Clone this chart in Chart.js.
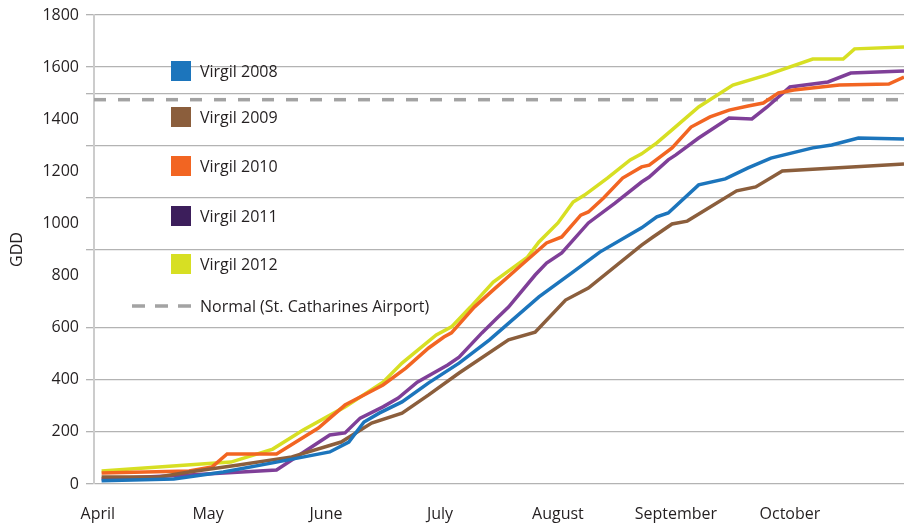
<!DOCTYPE html>
<html>
<head>
<meta charset="utf-8">
<script src="https://cdn.jsdelivr.net/npm/chart.js@4/dist/chart.umd.min.js"></script>
<style>
  html, body { margin: 0; padding: 0; background: #fff; }
  #wrap { width: 904px; height: 524px; }
</style>
</head>
<body>
<div id="wrap"><canvas id="gdd"></canvas></div>
<script>
// days counted from April 1
const monthTickDays = [1, 30, 61, 91, 122, 153, 183];
const monthLabels = ["April", "May", "June", "July", "August", "September", "October"];

const days2008 = [2, 21, 34, 48, 62, 67, 71, 75, 81, 88, 96, 104, 117, 126, 133, 144, 148, 151, 159, 166, 172, 178, 189, 194, 201, 213];
const gdd2008 = [12, 19, 46, 84, 123, 161, 238, 272, 315, 388, 464, 553, 718, 814, 890, 983, 1025, 1040, 1148, 1171, 1213, 1251, 1290, 1301, 1328, 1324];

const days2009 = [2, 17, 25, 38, 52, 65, 73, 81, 88, 96, 109, 116, 124, 130, 144, 147, 152, 156, 169, 174, 181, 213];
const gdd2009 = [27, 27, 46, 73, 104, 161, 234, 272, 342, 426, 553, 583, 706, 752, 917, 948, 998, 1009, 1125, 1140, 1201, 1228];

const days2010 = [2, 25, 31, 35, 48, 59, 66, 72, 76, 82, 88, 92, 94, 100, 105, 113, 119, 123, 128, 130, 134, 139, 144, 146, 152, 157, 162, 167, 172, 176, 180, 184, 196, 209, 213];
const gdd2010 = [42, 50, 65, 115, 115, 215, 303, 349, 380, 445, 522, 564, 580, 679, 745, 848, 925, 948, 1032, 1044, 1098, 1174, 1217, 1224, 1290, 1370, 1409, 1435, 1451, 1462, 1501, 1512, 1531, 1535, 1562];

const days2011 = [2, 25, 48, 52, 62, 66, 70, 76, 80, 85, 93, 96, 102, 106, 109, 116, 119, 123, 130, 137, 144, 146, 151, 153, 159, 167, 173, 177, 183, 193, 199, 213];
const gdd2011 = [19, 35, 54, 92, 188, 196, 253, 296, 330, 391, 457, 487, 580, 637, 679, 802, 848, 887, 1002, 1078, 1159, 1178, 1244, 1263, 1328, 1405, 1401, 1447, 1524, 1543, 1577, 1585];

const days2012 = [2, 32, 36, 47, 55, 66, 76, 81, 90, 94, 99, 105, 114, 117, 122, 126, 129, 135, 141, 144, 148, 152, 159, 168, 177, 189, 197, 200, 213];
const gdd2012 = [50, 81, 84, 134, 207, 296, 391, 464, 572, 603, 679, 775, 871, 929, 1002, 1082, 1109, 1174, 1244, 1267, 1309, 1359, 1447, 1531, 1570, 1631, 1631, 1670, 1677];

const normalGdd = 1475;
const seasonEnd = 213;

// y values that get a grid line in the original
const gridValues = [0, 200, 400, 600, 900, 1100, 1300, 1500, 1600, 1800];

function pts(days, vals) {
  return days.map((d, i) => ({ x: d, y: vals[i] }));
}

function line(label, days, vals, color, swatch) {
  return {
    label: label,
    data: pts(days, vals),
    borderColor: color,
    backgroundColor: swatch || color,
    borderWidth: 3.5,
    pointRadius: 0,
    tension: 0,
  };
}

const datasets = [
  line("Virgil 2008", days2008, gdd2008, "#1c75bc"),
  line("Virgil 2009", days2009, gdd2009, "#8b5e3c"),
  line("Virgil 2010", days2010, gdd2010, "#f26522"),
  line("Virgil 2011", days2011, gdd2011, "#7f3f98", "#3c1e5b"),
  line("Virgil 2012", days2012, gdd2012, "#d7df23"),
  {
    label: "Normal (St. Catharines Airport)",
    data: [{ x: 0, y: normalGdd }, { x: seasonEnd, y: normalGdd }],
    borderColor: "#a3a3a3",
    backgroundColor: "#a3a3a3",
    borderWidth: 3.5,
    borderDash: [12, 12],
    pointRadius: 0,
  },
];

// legend drawn inside the plot, like the original
const insideLegend = {
  id: "insideLegend",
  afterDraw(chart) {
    const ctx = chart.ctx;
    const rows = [71, 117, 166, 216, 264, 306];
    ctx.save();
    ctx.font = "16px 'Open Sans'";
    ctx.textBaseline = "middle";
    chart.data.datasets.forEach((ds, i) => {
      const y = rows[i];
      if (ds.borderDash) {
        ctx.strokeStyle = ds.borderColor;
        ctx.lineWidth = 3.5;
        ctx.setLineDash([13, 10]);
        ctx.beginPath();
        ctx.moveTo(191, y);
        ctx.lineTo(130, y);
        ctx.stroke();
        ctx.setLineDash([]);
      } else {
        ctx.fillStyle = ds.backgroundColor;
        ctx.fillRect(171, y - 10, 20, 20);
      }
      ctx.fillStyle = "#231f20";
      ctx.fillText(ds.label, 200, y + 1);
    });
    ctx.restore();
  },
};

new Chart(document.getElementById("gdd"), {
  type: "line",
  data: { datasets: datasets },
  options: {
    responsive: true,
    maintainAspectRatio: false,
    animation: false,
    layout: { padding: { top: 15, right: 0, left: 0, bottom: 0 } },
    plugins: {
      legend: { display: false },
      tooltip: { enabled: false },
    },
    scales: {
      x: {
        type: "linear",
        min: 0,
        max: seasonEnd,
        grid: { display: false, drawTicks: false },
        border: { display: false },
        afterBuildTicks: (s) => {
          s.ticks = monthTickDays.map((v) => ({ value: v }));
        },
        ticks: {
          autoSkip: false,
          maxRotation: 0,
          padding: 21,
          color: "#231f20",
          font: { family: "'Open Sans'", size: 16 },
          callback: (v) => monthLabels[monthTickDays.indexOf(v)],
        },
        afterFit: (s) => {
          s.height = 40;
          s.paddingLeft = 0;
          s.paddingRight = 0;
        },
      },
      y: {
        min: 0,
        max: 1800,
        title: {
          display: true,
          text: "GDD",
          color: "#231f20",
          font: { family: "'Open Sans'", size: 16 },
          padding: { top: 8, bottom: 0 },
        },
        grid: {
          color: (c) => (gridValues.includes(c.tick.value) ? "#b3b3b3" : "rgba(0,0,0,0)"),
          lineWidth: 1.3,
          tickLength: 8,
        },
        border: { display: true, color: "#cccccc", width: 2 },
        ticks: {
          stepSize: 100,
          padding: 7,
          color: "#231f20",
          font: { family: "'Open Sans'", size: 16 },
          callback: (v) => (v % 200 === 0 ? v : ""),
        },
        afterFit: (s) => {
          s.width = 94;
          s.paddingTop = 0;
          s.paddingBottom = 0;
        },
      },
    },
  },
  plugins: [insideLegend],
});
</script>
</body>
</html>
